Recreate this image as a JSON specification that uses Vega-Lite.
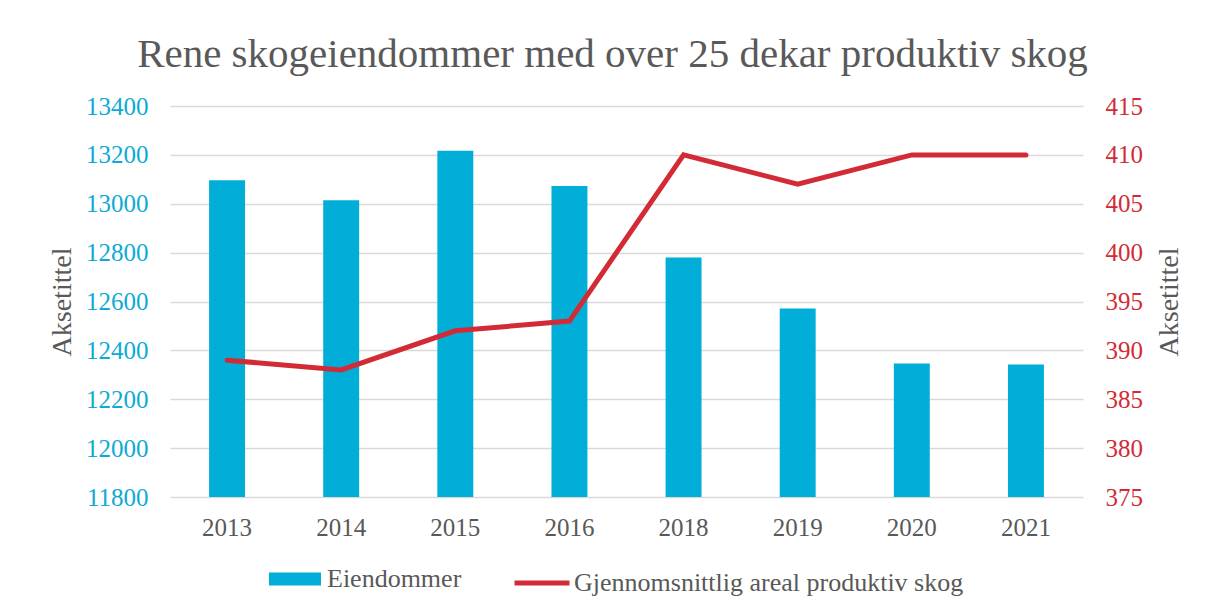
{
  "$schema": "https://vega.github.io/schema/vega-lite/v6.json",
  "width": 913,
  "height": 391,
  "autosize": {"type": "none"},
  "padding": {"left": 170, "top": 106, "right": 125, "bottom": 110},
  "background": "white",
  "title": {
    "text": "Rene skogeiendommer med over 25 dekar produktiv skog",
    "font": "Liberation Serif",
    "fontSize": 41,
    "fontWeight": "normal",
    "color": "#595959",
    "anchor": "middle",
    "dx": -14,
    "offset": 18
  },
  "data": {
    "values": [
      {"year": "2013", "eiendommer": 13096, "areal": 389},
      {"year": "2014", "eiendommer": 13014, "areal": 388},
      {"year": "2015", "eiendommer": 13217, "areal": 392},
      {"year": "2016", "eiendommer": 13073, "areal": 393},
      {"year": "2018", "eiendommer": 12780, "areal": 410},
      {"year": "2019", "eiendommer": 12571, "areal": 407},
      {"year": "2020", "eiendommer": 12346, "areal": 410},
      {"year": "2021", "eiendommer": 12342, "areal": 410}
    ]
  },
  "encoding": {
    "x": {
      "field": "year",
      "type": "nominal",
      "sort": null,
      "scale": {"paddingInner": 0.685, "paddingOuter": 0.3425},
      "axis": {
        "title": null,
        "labelAngle": 0,
        "labelPadding": 18,
        "labelFont": "Liberation Serif",
        "labelFontSize": 25,
        "labelColor": "#595959",
        "domain": false,
        "ticks": false,
        "grid": false
      }
    }
  },
  "layer": [
    {
      "mark": {"type": "bar", "clip": true},
      "encoding": {
        "y": {
          "field": "eiendommer",
          "type": "quantitative",
          "scale": {"domain": [11800, 13400], "zero": false, "nice": false},
          "axis": {
            "orient": "left",
            "values": [11800, 12000, 12200, 12400, 12600, 12800, 13000, 13200, 13400],
            "format": "d",
            "grid": true,
            "gridColor": "#D9D9D9",
            "gridWidth": 1.5,
            "domain": false,
            "ticks": false,
            "labelPadding": 22,
            "labelFont": "Liberation Serif",
            "labelFontSize": 25,
            "labelColor": "#0EAAD6",
            "title": "Aksetittel",
            "titleFont": "Liberation Serif",
            "titleFontSize": 28,
            "titleFontWeight": "normal",
            "titleColor": "#595959",
            "titlePadding": 9
          }
        },
        "y2": {"datum": 11800},
        "fill": {
          "datum": "Eiendommer",
          "type": "nominal",
          "scale": {"range": ["#00AED8"]},
          "legend": {
            "title": null,
            "orient": "none",
            "legendX": 99,
            "legendY": 447,
            "symbolType": "M-1,-0.25H1V0.25H-1Z",
            "symbolSize": 2704,
            "symbolStrokeWidth": 0,
            "labelOffset": 6
          }
        }
      }
    },
    {
      "mark": {"type": "line", "strokeWidth": 5, "strokeCap": "round"},
      "encoding": {
        "y": {
          "field": "areal",
          "type": "quantitative",
          "scale": {"domain": [375, 415], "zero": false, "nice": false},
          "axis": {
            "orient": "right",
            "values": [375, 380, 385, 390, 395, 400, 405, 410, 415],
            "grid": false,
            "domain": false,
            "ticks": false,
            "labelPadding": 22,
            "labelFont": "Liberation Serif",
            "labelFontSize": 25,
            "labelColor": "#D32B36",
            "title": "Aksetittel",
            "titleFont": "Liberation Serif",
            "titleFontSize": 28,
            "titleFontWeight": "normal",
            "titleColor": "#595959",
            "titleAngle": -90,
            "titleBaseline": "top",
            "titlePadding": 13
          }
        },
        "stroke": {
          "datum": "Gjennomsnittlig areal produktiv skog",
          "type": "nominal",
          "scale": {"range": ["#D32B36"]},
          "legend": {
            "title": null,
            "orient": "none",
            "legendX": 342,
            "legendY": 447,
            "symbolType": "stroke",
            "symbolSize": 3025,
            "symbolStrokeWidth": 5,
            "labelOffset": 2
          }
        }
      }
    }
  ],
  "resolve": {"scale": {"y": "independent"}},
  "config": {
    "view": {"stroke": null},
    "legend": {
      "direction": "horizontal",
      "labelFont": "Liberation Serif",
      "labelFontSize": 26,
      "labelColor": "#595959",
      "labelLimit": 0,
      "padding": 0
    }
  }
}
